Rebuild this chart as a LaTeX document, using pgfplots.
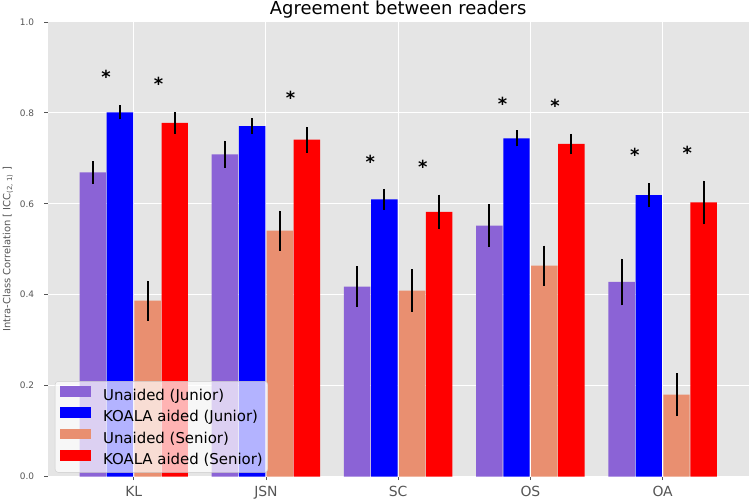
\documentclass[border=0pt]{standalone}
\usepackage{fontspec}
\setmainfont{DejaVu Sans}
\usepackage{pgfplots}
\pgfplotsset{compat=1.18}
\definecolor{bg}{HTML}{E5E5E5}
\definecolor{cpurple}{HTML}{8B63D6}
\definecolor{csalmon}{HTML}{E98F70}
\definecolor{tickgray}{HTML}{555555}
\begin{document}
\begin{tikzpicture}
\begin{axis}[
  scale only axis,
  width=701.7bp, height=455bp,
  xmin=-0.651, xmax=4.651, ymin=0, ymax=1,
  axis background/.style={fill=bg},
  axis line style={draw=none},
  grid=major,
  grid style={white, line width=1bp},
  xtick={0,1,2,3,4},
  xticklabels={KL,JSN,SC,OS,OA},
  ytick={0,0.2,0.4,0.6,0.8,1.0},
  xtick pos=bottom, ytick pos=left,
  tick align=outside,
  major tick length=3.5bp,
  tick style={color=tickgray, line width=0.8bp},
  /pgf/number format/.cd, fixed, fixed zerofill, precision=1, assume math mode=true,
  /pgfplots/.cd,
  yticklabel style={anchor=east, inner sep=0pt, xshift=-9.9bp, font=\fontsize{9}{9}\selectfont, text=tickgray},
  xticklabel style={anchor=base, inner sep=0pt, yshift=-16.5bp, font=\fontsize{14}{14}\selectfont, text=tickgray},
  ylabel={Intra-Class Correlation [ ICC\textsubscript{(2, 1)} ]},
  ylabel style={at={(axis description cs:-0.0566,0.5)}, anchor=center, font=\fontsize{10}{10}\selectfont, text=tickgray},
  title={Agreement between readers},
  every axis title shift=0pt,
  title style={at={(axis description cs:0.5,1)}, anchor=base, yshift=7bp, inner sep=0pt, font=\fontsize{18}{18}\selectfont, text=black},
  legend style={at={(0.0104,0.0088)}, anchor=south west, draw=black!20, rounded corners=3bp,
    fill=white, fill opacity=0.7, draw opacity=1, text opacity=1,
    inner xsep=5bp, inner ysep=4.5bp, row sep=3.4bp, column sep=12bp,
    font=\fontsize{15}{15}\selectfont,
    nodes={inner sep=0pt, text height=11bp, text depth=3.5bp}},
  legend cell align=left,
  legend image code/.code={\fill[#1, draw=none, fill opacity=1, sharp corners] (0bp,0bp) rectangle (31bp,10.7bp);},
]
\coordinate (bl) at (rel axis cs:0,0);
\coordinate (tr) at (rel axis cs:1,1);
% Unaided (Junior)
\addplot[ybar, bar width=0.2, bar shift=0pt, fill=cpurple, draw=none,
  error bars/.cd, y dir=both, y explicit, error mark=none, error bar style={line width=2bp, black}]
  coordinates {(-0.31,0.669) +- (0,0.0245) (0.69,0.709) +- (0,0.030) (1.69,0.418) +- (0,0.0445) (2.69,0.552) +- (0,0.047) (3.69,0.428) +- (0,0.0515)};
\addlegendentry{Unaided (Junior)}
% KOALA aided (Junior)
\addplot[ybar, bar width=0.2, bar shift=0pt, fill=blue, draw=none,
  error bars/.cd, y dir=both, y explicit, error mark=none, error bar style={line width=2bp, black}]
  coordinates {(-0.105,0.801) +- (0,0.0155) (0.895,0.771) +- (0,0.017) (1.895,0.610) +- (0,0.023) (2.895,0.744) +- (0,0.0176) (3.895,0.619) +- (0,0.026)};
\addlegendentry{KOALA aided (Junior)}
% Unaided (Senior)
\addplot[ybar, bar width=0.2, bar shift=0pt, fill=csalmon, draw=none,
  error bars/.cd, y dir=both, y explicit, error mark=none, error bar style={line width=2bp, black}]
  coordinates {(0.105,0.387) +- (0,0.044) (1.105,0.541) +- (0,0.044) (2.105,0.409) +- (0,0.047) (3.105,0.464) +- (0,0.044) (4.105,0.180) +- (0,0.047)};
\addlegendentry{Unaided (Senior)}
% KOALA aided (Senior)
\addplot[ybar, bar width=0.2, bar shift=0pt, fill=red, draw=none,
  error bars/.cd, y dir=both, y explicit, error mark=none, error bar style={line width=2bp, black}]
  coordinates {(0.31,0.778) +- (0,0.024) (1.31,0.741) +- (0,0.0285) (2.31,0.582) +- (0,0.038) (3.31,0.732) +- (0,0.022) (4.31,0.603) +- (0,0.048)};
\addlegendentry{KOALA aided (Senior)}
% significance asterisks
\addplot[forget plot, draw=none, mark=none, nodes near coords={\bfseries *},
  every node near coord/.style={anchor=base, inner sep=0pt, yshift=-9.9bp, font=\fontsize{18}{18}\selectfont, text=black}]
  coordinates {(-0.21,0.886) (1.79,0.700) (2.79,0.827) (3.79,0.715)
               (0.187,0.870) (1.187,0.840) (2.187,0.689) (3.187,0.823) (4.187,0.720)};
\end{axis}
\pgfresetboundingbox
\useasboundingbox ([xshift=-47.7bp,yshift=-23bp]bl) rectangle ([xshift=0.3bp,yshift=22bp]tr);
\end{tikzpicture}
\end{document}
